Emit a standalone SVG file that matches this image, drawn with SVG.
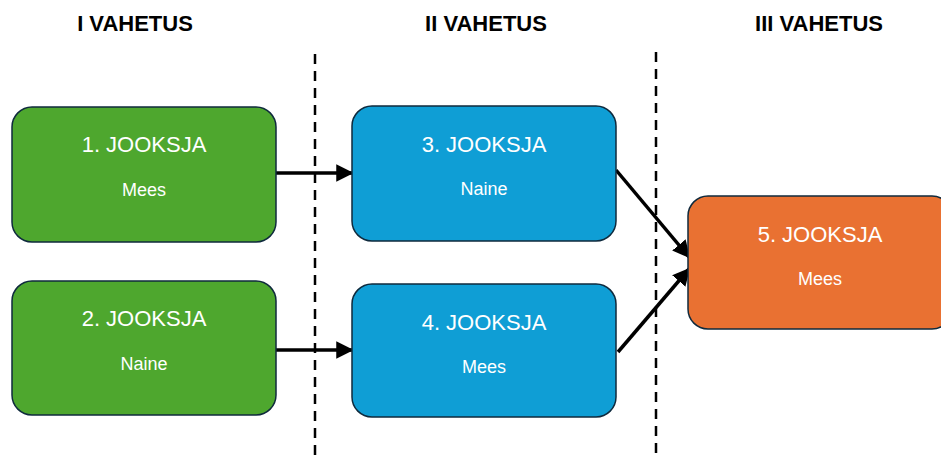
<svg xmlns="http://www.w3.org/2000/svg" width="941" height="459" viewBox="0 0 941 459">
<style>
.box{stroke:#0f2a3d;stroke-width:1.5}
.g{fill:#4ea72e}.b{fill:#0f9ed5}.o{fill:#e97132}
.t{font-family:"Liberation Sans",Arial,sans-serif;fill:#fff;text-anchor:middle}
.t1{font-size:22px}.t2{font-size:18px}
.h{font-family:"Liberation Sans",Arial,sans-serif;font-weight:bold;font-size:22px;text-anchor:middle;fill:#000}
.dash{stroke:#000;stroke-width:2.5;stroke-dasharray:10 7;fill:none}
.c{stroke:#000;stroke-width:3.5;fill:none;marker-end:url(#ah)}
</style>
<defs>
<marker id="ah" markerWidth="5" markerHeight="5" refX="4.5" refY="2.5" orient="auto" markerUnits="strokeWidth">
<path d="M0,0 L5,2.5 L0,5 Z" fill="#000"/>
</marker>
</defs>
<rect width="941" height="459" fill="#fff"/>
<g id="headers">
<text class="h" x="135" y="31">I VAHETUS</text>
<text class="h" x="486" y="31">II VAHETUS</text>
<text class="h" x="819" y="31">III VAHETUS</text>
</g>
<g id="dividers">
<line class="dash" x1="315" y1="54" x2="315" y2="459"/>
<line class="dash" x1="656" y1="52" x2="656" y2="459"/>
</g>
<g id="connectors">
<line class="c" x1="276" y1="173" x2="352" y2="173"/>
<line class="c" x1="276" y1="350" x2="352" y2="350"/>
<line class="c" x1="616" y1="170" x2="689" y2="257"/>
<line class="c" x1="618" y1="352" x2="689" y2="269"/>
</g>
<g id="node1">
<rect class="box g" x="12" y="107" width="264" height="135" rx="20"/>
<text class="t t1" x="144" y="152">1. JOOKSJA</text>
<text class="t t2" x="144" y="196">Mees</text>
</g>
<g id="node2">
<rect class="box g" x="12" y="281" width="264" height="134" rx="20"/>
<text class="t t1" x="144" y="326">2. JOOKSJA</text>
<text class="t t2" x="144" y="370">Naine</text>
</g>
<g id="node3">
<rect class="box b" x="352" y="106" width="264" height="135" rx="20"/>
<text class="t t1" x="484" y="152">3. JOOKSJA</text>
<text class="t t2" x="484" y="195">Naine</text>
</g>
<g id="node4">
<rect class="box b" x="352" y="284" width="264" height="133" rx="20"/>
<text class="t t1" x="484" y="330">4. JOOKSJA</text>
<text class="t t2" x="484" y="373">Mees</text>
</g>
<g id="node5">
<rect class="box o" x="688" y="196" width="264" height="133" rx="20"/>
<text class="t t1" x="820" y="242">5. JOOKSJA</text>
<text class="t t2" x="820" y="285">Mees</text>
</g>
</svg>
